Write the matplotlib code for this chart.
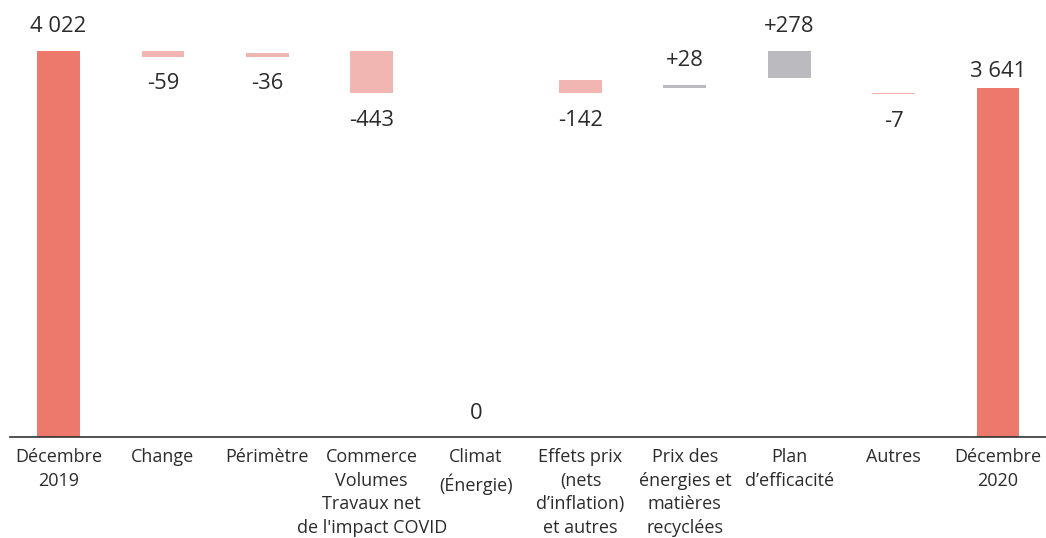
import numpy as np
import matplotlib.pyplot as plt

plt.rcParams['font.family'] = ['Open Sans', 'DejaVu Sans']

# catégories et valeurs (M€)
categories = ["Décembre\n2019", "Change", "Périmètre",
              "Commerce\nVolumes\nTravaux net\nde l'impact COVID",
              "Climat\n(Énergie)", "Effets prix\n(nets\nd\u2019inflation)\net autres",
              "Prix des\nénergies et\nmatières\nrecyclées", "Plan\nd\u2019efficacité",
              "Autres", "Décembre\n2020"]
values = [4022, -59, -36, -443, 0, -142, 28, 278, -7, 3641]
labels = ["4 022", "-59", "-36", "-443", "0", "-142", "+28", "+278", "-7", "3 641"]
bottoms = [0, 3963, 3963, 3579, 0, 3579, 3640, 3744, 3572, 0]
kinds = ["total", "neg", "neg", "neg", "neg", "neg", "pos", "pos", "neg", "total"]

colors = {"total": "#ec796b", "neg": "#f2b6b2", "pos": "#bbbbbf"}

fig = plt.figure(figsize=(10.46, 5.38), dpi=100)
ax = fig.add_axes([0.0096, 0.1877, 0.9904, 0.8123])

x = np.arange(len(categories))
heights = [abs(v) if k != "total" else v for v, k in zip(values, kinds)]
cols = [colors[k] for k in kinds]
cols[8] = "#f4b0aa"
ax.bar(x, heights, bottom=bottoms, width=0.41, color=cols)

for i, (v, b, h, lab, k) in enumerate(zip(values, bottoms, heights, labels, kinds)):
    if k == "neg" and v != 0:
        y, off = b, -27
    else:
        y, off = b + h, 24
    if i == 9:
        off = 16
    ax.annotate(lab, (i, y), xytext=(0, off), textcoords="offset pixels",
                ha="center", va="center", fontsize=15.8, color="#2b2b2b")

ax.set_xlim(-0.465, 9.46)
ax.set_ylim(0, 4553)
ax.set_xticks(x)
ax.set_xticklabels(categories, fontsize=13, color="#2b2b2b", linespacing=1.4)
ax.tick_params(axis="x", length=0, pad=8)
ax.set_yticks([])
for s in ["top", "right", "left"]:
    ax.spines[s].set_visible(False)
ax.spines["bottom"].set_color("#333333")
ax.spines["bottom"].set_linewidth(1.2)

fig.savefig("out.png", dpi=100)
